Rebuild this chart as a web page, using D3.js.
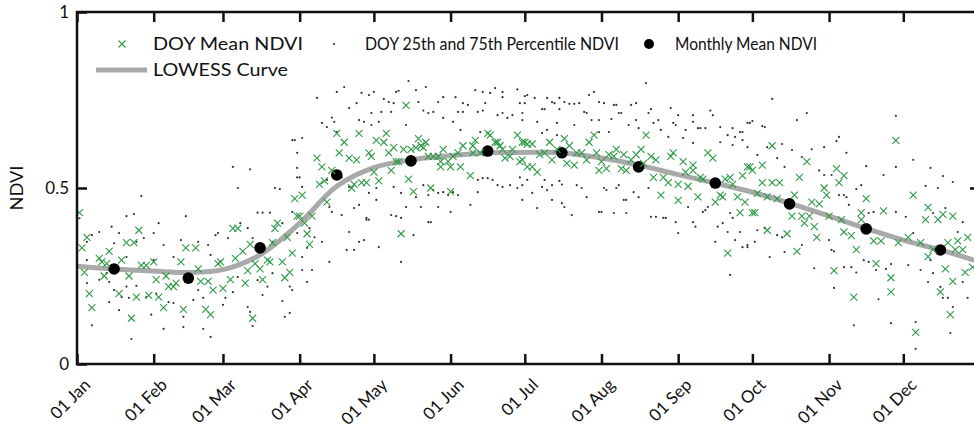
<!DOCTYPE html>
<html>
<head>
<meta charset="utf-8">
<script src="https://cdn.jsdelivr.net/npm/d3@7"></script>
<style>
	body { margin: 0; background: #fff; }
	text { font-family: "Lato", "Open Sans", sans-serif; fill: #111; }
</style>
</head>
<body>
<svg id="chart" width="974" height="430"></svg>
<script>
// month ticks (day of year, 0 = 01 Jan)
const monthStart = [0, 31, 59, 90, 120, 151, 181, 212, 243, 273, 304, 334]
const monthLabels = ["01 Jan", "01 Feb", "01 Mar", "01 Apr", "01 May", "01 Jun", "01 Jul", "01 Aug", "01 Sep", "01 Oct", "01 Nov", "01 Dec"]
const yTicks = [0, 0.5, 1]
const yTickLabels = ["0", "0.5", "1"]

// monthly mean NDVI, plotted mid-month
const monthlyDoy = [15, 45, 74, 105, 135, 166, 196, 227, 258, 288, 319, 349]
const monthlyMean = [0.27, 0.244, 0.33, 0.537, 0.577, 0.605, 0.6, 0.56, 0.514, 0.455, 0.384, 0.324]

// LOWESS curve
const lowessDoy = [0, 15, 31, 45, 59, 74, 90, 105, 120, 135, 151, 166, 181, 196, 212, 227, 243, 258, 273, 288, 304, 319, 334, 349, 365]
const lowessVal = [0.278, 0.27, 0.264, 0.26, 0.268, 0.31, 0.4, 0.505, 0.558, 0.58, 0.592, 0.6, 0.601, 0.6, 0.585, 0.565, 0.538, 0.514, 0.488, 0.457, 0.42, 0.385, 0.352, 0.324, 0.29]

// DOY mean NDVI [doy, ndvi]
const doyMean = [
	[1,.43],[4,.36],[2,.33],[3,.26],[5,.20],[6,.16],[9,.30],[10,.29],[12,.285],[13,.32],[11,.25],[17,.20],[18,.295],[20,.345],[23,.345],[21,.25],[22,.13],[24,.19],[25,.38],[26,.28],[28,.28],[29,.195],[31,.29],[32,.24],[33,.19],[35,.16],[36,.25],[37,.22],[39,.22],[40,.23],[42,.29],[44,.33],[48,.33],[43,.155],[49,.27],[50,.235],[53,.235],[52,.155],[54,.14],[55,.21],[57,.285],[58,.29],[59,.215],[62,.24],[63,.385],[65,.385],[64,.30],[67,.32],[68,.23],[69,.265],[70,.34],[71,.13],[72,.285],[74,.27],[75,.24],[77,.295],[78,.29],[79,.345],[80,.385],[81,.40],[83,.29],[85,.36],[84,.245],[86,.26],[87,.315],[88,.47],[89,.42],
	[91,.48],[90,.42],[92,.40],[93,.37],[95,.42],[94,.34],[97,.585],[99,.56],[98,.51],[100,.52],[101,.46],[105,.655],[108,.63],[106,.60],[103,.55],[110,.585],[113,.58],[111,.50],[112,.51],[115,.515],[117,.515],[114,.655],[118,.60],[119,.59],[121,.635],[124,.63],[122,.52],[120,.545],[125,.655],[126,.60],[127,.55],[128,.615],[129,.575],[130,.575],[132,.61],[133,.735],[134,.525],[131,.37],[135,.61],[136,.49],[137,.615],[138,.64],[139,.62],[140,.615],[141,.63],[142,.59],[143,.50],[144,.59],[146,.59],[147,.56],[147,.575],[148,.61],[150,.575],[151,.56],[151,.49],[152,.59],[154,.60],[155,.56],[156,.62],[159,.535],[160,.62],[161,.635],[160,.60],[163,.60],[166,.655],[167,.65],[169,.63],[170,.63],[171,.62],[172,.61],[173,.585],[175,.59],[176,.61],[178,.65],[179,.575],[181,.63],[182,.56],
	[180,.63],[182,.625],[184,.625],[180,.58],[184,.56],[186,.545],[187,.595],[189,.60],[191,.63],[192,.58],[194,.61],[197,.64],[199,.62],[198,.57],[201,.565],[202,.60],[204,.60],[206,.58],[207,.63],[209,.65],[210,.60],[212,.575],[211,.55],[214,.555],[215,.595],[218,.61],[217,.59],[220,.555],[221,.595],[222,.55],[224,.58],[226,.595],[228,.61],[230,.65],[229,.57],[232,.59],[233,.53],[234,.58],[236,.48],[237,.53],[239,.515],[240,.59],[241,.60],[243,.465],[243,.51],[245,.575],[246,.545],[247,.505],[249,.565],[249,.55],[251,.475],[252,.53],[253,.525],[255,.60],[257,.585],[258,.46],[260,.48],[261,.475],[262,.525],[264,.53],[263,.315],[265,.51],[267,.475],[268,.43],[269,.535],[270,.46],[271,.56],
	[272,.56],[273,.55],[277,.565],[281,.62],[277,.515],[273,.43],[274,.43],[275,.485],[279,.475],[281,.515],[283,.47],[284,.515],[279,.38],[287,.37],[289,.42],[290,.48],[292,.53],[293,.42],[291,.32],[294,.40],[295,.575],[296,.42],[298,.39],[297,.46],[299,.36],[300,.455],[302,.50],[303,.48],[304,.42],[306,.265],[307,.555],[308,.515],[310,.535],[309,.41],[310,.375],[313,.365],[315,.325],[314,.19],[317,.43],[317,.41],[319,.47],[322,.35],[325,.35],[323,.285],[326,.435],[329,.245],[329,.205],[331,.635],[332,.345],[336,.36],[338,.48],[339,.09],[341,.345],[343,.41],[344,.445],[344,.305],[346,.325],[348,.41],[349,.205],[350,.425],[351,.27],[352,.345],[353,.14],[354,.42],[354,.235],[356,.35],[355,.325],[358,.325],[359,.26],[360,.36],[362,.275]
]

// DOY 25th and 75th percentile NDVI [doy, ndvi]
const doyPercentile = [
	[87,.636],[89,.60],[63,.56],[70,.553],[65,.50],[80,.50],[82,.497],[89,.53],[26,.477],[20,.42],[23,.426],[44,.42],[33,.40],[73,.43],[75,.43],[78,.43],[66,.40],[1,.414],[14,.39],[9,.375],[17,.372],[27,.358],[24,.347],[31,.372],[42,.352],[49,.347],[56,.366],[57,.372],[61,.358],[53,.338],[71,.358],[83,.40],[86,.372],[79,.347],[4,.347],[6,.366],[15,.343],[20,.304],[35,.338],[39,.304],[54,.31],[69,.386],[4,.295],[8,.272],[31,.295],
	[9,.239],[13,.233],[4,.23],[15,.21],[13,.176],[18,.19],[21,.188],[17,.153],[6,.11],[22,.071],[28,.19],[32,.20],[35,.10],[30,.14],[37,.176],[39,.173],[43,.134],[43,.105],[47,.182],[49,.21],[51,.188],[51,.10],[54,.077],[59,.168],[60,.188],[63,.204],[69,.162],[70,.148],[71,.108],[75,.196],[77,.22],[83,.179],[84,.134],[86,.145],[87,.21],[12,.258],[20,.22],[24,.222],[44,.238],[47,.258],[65,.247],[73,.238],[79,.258],
	[134,.804],[105,.773],[108,.787],[97,.756],[115,.77],[118,.764],[120,.773],[124,.753],[126,.744],[129,.773],[130,.776],[141,.787],[137,.778],[146,.744],[148,.758],[153,.758],[156,.741],[158,.736],[161,.778],[164,.773],[165,.741],[167,.77],[169,.784],[172,.773],[172,.758],[178,.78],[179,.741],[181,.761],[110,.727],[113,.741],[103,.70],[99,.685],[114,.693],[116,.688],[119,.713],[122,.688],[123,.716],[127,.716],[128,.741],[138,.744],[140,.72],[142,.713],[144,.716],[148,.699],[152,.688],[154,.716],[156,.716],[162,.716],[164,.72],[170,.707],[172,.713],[174,.699],[176,.707],[180,.713],[88,.636],[91,.642],[101,.673],[104,.688],[105,.659],[119,.679],[133,.679],[163,.659],[155,.665],
	[89,.557],[90,.53],[91,.503],[101,.523],[107,.53],[110,.503],[118,.486],[121,.50],[102,.446],[103,.432],[107,.423],[114,.452],[112,.443],[117,.415],[118,.41],[121,.466],[128,.503],[131,.486],[133,.446],[127,.423],[129,.42],[131,.415],[137,.474],[140,.508],[142,.48],[144,.494],[139,.446],[142,.403],[146,.486],[148,.488],[150,.48],[152,.488],[154,.48],[146,.446],[151,.432],[159,.452],[162,.523],[164,.528],[166,.528],[168,.523],[170,.508],[172,.503],[175,.508],[178,.50],[180,.508],[162,.488],[87,.432],[89,.372],[87,.375],[94,.386],[96,.36],[99,.347],[93,.33],[91,.304],[102,.29],[86,.22],[93,.233],[91,.267],[95,.267],[109,.324],[112,.324],[110,.375],[114,.347],[116,.352],[122,.332],[117,.41],[131,.29],[136,.366],[143,.403],
	[230,.798],[181,.741],[182,.764],[185,.756],[190,.756],[192,.744],[193,.741],[195,.756],[197,.744],[199,.739],[201,.739],[203,.741],[207,.764],[209,.773],[211,.744],[213,.741],[217,.736],[218,.736],[224,.736],[226,.741],[188,.724],[189,.724],[195,.724],[205,.716],[206,.713],[219,.713],[220,.713],[231,.713],[232,.724],[240,.727],[243,.707],[249,.707],[256,.72],[257,.707],[180,.693],[186,.688],[194,.685],[201,.679],[208,.693],[211,.693],[216,.696],[223,.679],[226,.693],[227,.67],[233,.685],[235,.693],[236,.665],[241,.685],[242,.679],[246,.665],[249,.688],[251,.67],[252,.67],[254,.67],[260,.673],[265,.67],[268,.659],[263,.65],[266,.645],[260,.63],[265,.622],[269,.636],[271,.685],[188,.656],[190,.665],[194,.65],[211,.659],[215,.659],[239,.645],[245,.642],[249,.628],
	[179,.53],[182,.523],[180,.466],[184,.486],[186,.443],[188,.503],[189,.523],[190,.494],[192,.508],[195,.52],[196,.51],[196,.457],[197,.446],[192,.466],[200,.423],[202,.508],[204,.50],[206,.474],[211,.432],[212,.432],[213,.50],[214,.494],[218,.50],[219,.508],[221,.466],[222,.466],[217,.429],[222,.429],[225,.488],[227,.474],[231,.50],[232,.418],[234,.418],[237,.415],[238,.415],[242,.403],[243,.372],[247,.446],[249,.403],[250,.39],[253,.432],[254,.437],[255,.446],[258,.347],[259,.39],[261,.40],[263,.375],[264,.429],[265,.415],[266,.352],[268,.375],[269,.332],[271,.332],[264,.253],
	[281,.753],[295,.713],[291,.693],[272,.685],[273,.69],[277,.676],[278,.673],[269,.659],[331,.705],[331,.56],[308,.645],[307,.633],[271,.616],[279,.616],[285,.625],[289,.608],[297,.61],[302,.616],[311,.60],[275,.594],[283,.585],[286,.56],[293,.588],[300,.55],[302,.537],[305,.537],[319,.562],[338,.58],[345,.557],[350,.534],[354,.517],[338,.372],[326,.537],[308,.48],[310,.48],[311,.474],[312,.452],[315,.497],[317,.508],[320,.429],[322,.432],[331,.432],[335,.418],[343,.506],[348,.50],[351,.443],[358,.403],[346,.429],[356,.375],[275,.38],[278,.386],[271,.338],[274,.347],[283,.366],[285,.36],[280,.304],[286,.318],[293,.338],[298,.272],[305,.324],[306,.32],[304,.352],[310,.275],[313,.275],[315,.26],[306,.216],[318,.295],[320,.29],[323,.267],[327,.27],[324,.184],[329,.284],[336,.281],[341,.267],[345,.295],[344,.233],[346,.258],[349,.219],[350,.188],[352,.188],[354,.162],[358,.233],[360,.188],[353,.088],[339,.119],[339,.043],[329,.116],[314,.11]
]

const greenColor = "#2f9a48"
const curveColor = "#a9a9a9"
const crossPath = "M-3.5,-3.5L3.5,3.5M-3.5,3.5L3.5,-3.5"

const svg = d3.select("#chart")

const x = d3.scaleLinear().domain([0, 365]).range([77, 980])
const y = d3.scaleLinear().domain([0, 1]).range([364, 12])

// percentile dots
svg.append("g")
	.selectAll("circle")
	.data(doyPercentile)
	.join("circle")
	.attr("cx", d => x(d[0]))
	.attr("cy", d => y(d[1]))
	.attr("r", 1.1)
	.attr("fill", "#333")

// LOWESS curve
const lowessData = lowessDoy.map((d, i) => [d, lowessVal[i]])
svg.append("path")
	.datum(lowessData)
	.attr("fill", "none")
	.attr("stroke", curveColor)
	.attr("stroke-width", 5)
	.attr("d", d3.line().curve(d3.curveCatmullRom.alpha(0.5)).x(d => x(d[0])).y(d => y(d[1])))

// monthly means
svg.append("g")
	.selectAll("circle")
	.data(monthlyDoy.map((d, i) => [d, monthlyMean[i]]))
	.join("circle")
	.attr("cx", d => x(d[0]))
	.attr("cy", d => y(d[1]))
	.attr("r", 5.8)
	.attr("fill", "#000")

// DOY means
svg.append("g")
	.selectAll("path")
	.data(doyMean)
	.join("path")
	.attr("transform", d => `translate(${x(d[0])},${y(d[1])})`)
	.attr("d", crossPath)
	.attr("stroke", greenColor)
	.attr("stroke-width", 1.1)
	.attr("fill", "none")

// axes, ticks pointing inward
const gBottom = svg.append("g")
	.attr("transform", `translate(0,${y(0)})`)
	.call(d3.axisBottom(x).tickValues(monthStart).tickFormat((d, i) => monthLabels[i]).tickSize(-10).tickSizeOuter(0))
gBottom.selectAll("text")
	.attr("y", 0)
	.attr("dy", 0)
	.attr("text-anchor", "end")
	.attr("transform", "translate(14,22) rotate(-45)")
	.style("font-size", "17px")

svg.append("g")
	.attr("transform", `translate(0,${y(1)})`)
	.call(d3.axisTop(x).tickValues(monthStart).tickFormat("").tickSize(-10).tickSizeOuter(0))

svg.append("g")
	.attr("transform", `translate(${x(0)},0)`)
	.call(d3.axisLeft(y).tickValues(yTicks).tickFormat((d, i) => yTickLabels[i]).tickSize(-10).tickSizeOuter(0).tickPadding(8))
	.selectAll("text")
	.style("font-size", "17px")

svg.append("g")
	.attr("transform", `translate(${x(365)},0)`)
	.call(d3.axisRight(y).tickValues([0.5]).tickFormat("").tickSize(-10).tickSizeOuter(0))

svg.selectAll(".domain").remove()
svg.selectAll(".tick line").attr("stroke", "#111").attr("stroke-width", 2.5)

svg.append("rect")
	.attr("x", x(0))
	.attr("y", y(1))
	.attr("width", x(365) - x(0))
	.attr("height", y(0) - y(1))
	.attr("fill", "none")
	.attr("stroke", "#111")
	.attr("stroke-width", 2.5)

svg.append("text")
	.attr("transform", `translate(23,${y(0.5)}) rotate(-90)`)
	.attr("text-anchor", "middle")
	.attr("textLength", 45)
	.attr("lengthAdjust", "spacingAndGlyphs")
	.style("font-size", "17px")
	.text("NDVI")

// legend
const legend = svg.append("g").style("font-size", "18px")
const legendText = (xPos, yPos, width, label) =>
	legend.append("text")
		.attr("x", xPos)
		.attr("y", yPos)
		.attr("textLength", width)
		.attr("lengthAdjust", "spacingAndGlyphs")
		.text(label)
legend.append("path").attr("transform", "translate(122,44)").attr("d", crossPath).attr("stroke", greenColor).attr("stroke-width", 1.1)
legendText(153, 50, 150, "DOY Mean NDVI")
legend.append("circle").attr("cx", 334).attr("cy", 44).attr("r", 1.1).attr("fill", "#333")
legendText(365, 50, 254, "DOY 25th and 75th Percentile NDVI")
legend.append("circle").attr("cx", 649).attr("cy", 44).attr("r", 5).attr("fill", "#000")
legendText(675, 50, 142, "Monthly Mean NDVI")
legend.append("line").attr("x1", 96).attr("x2", 147).attr("y1", 70).attr("y2", 70).attr("stroke", curveColor).attr("stroke-width", 5)
legendText(153, 76, 135, "LOWESS Curve")
</script>
</body>
</html>
